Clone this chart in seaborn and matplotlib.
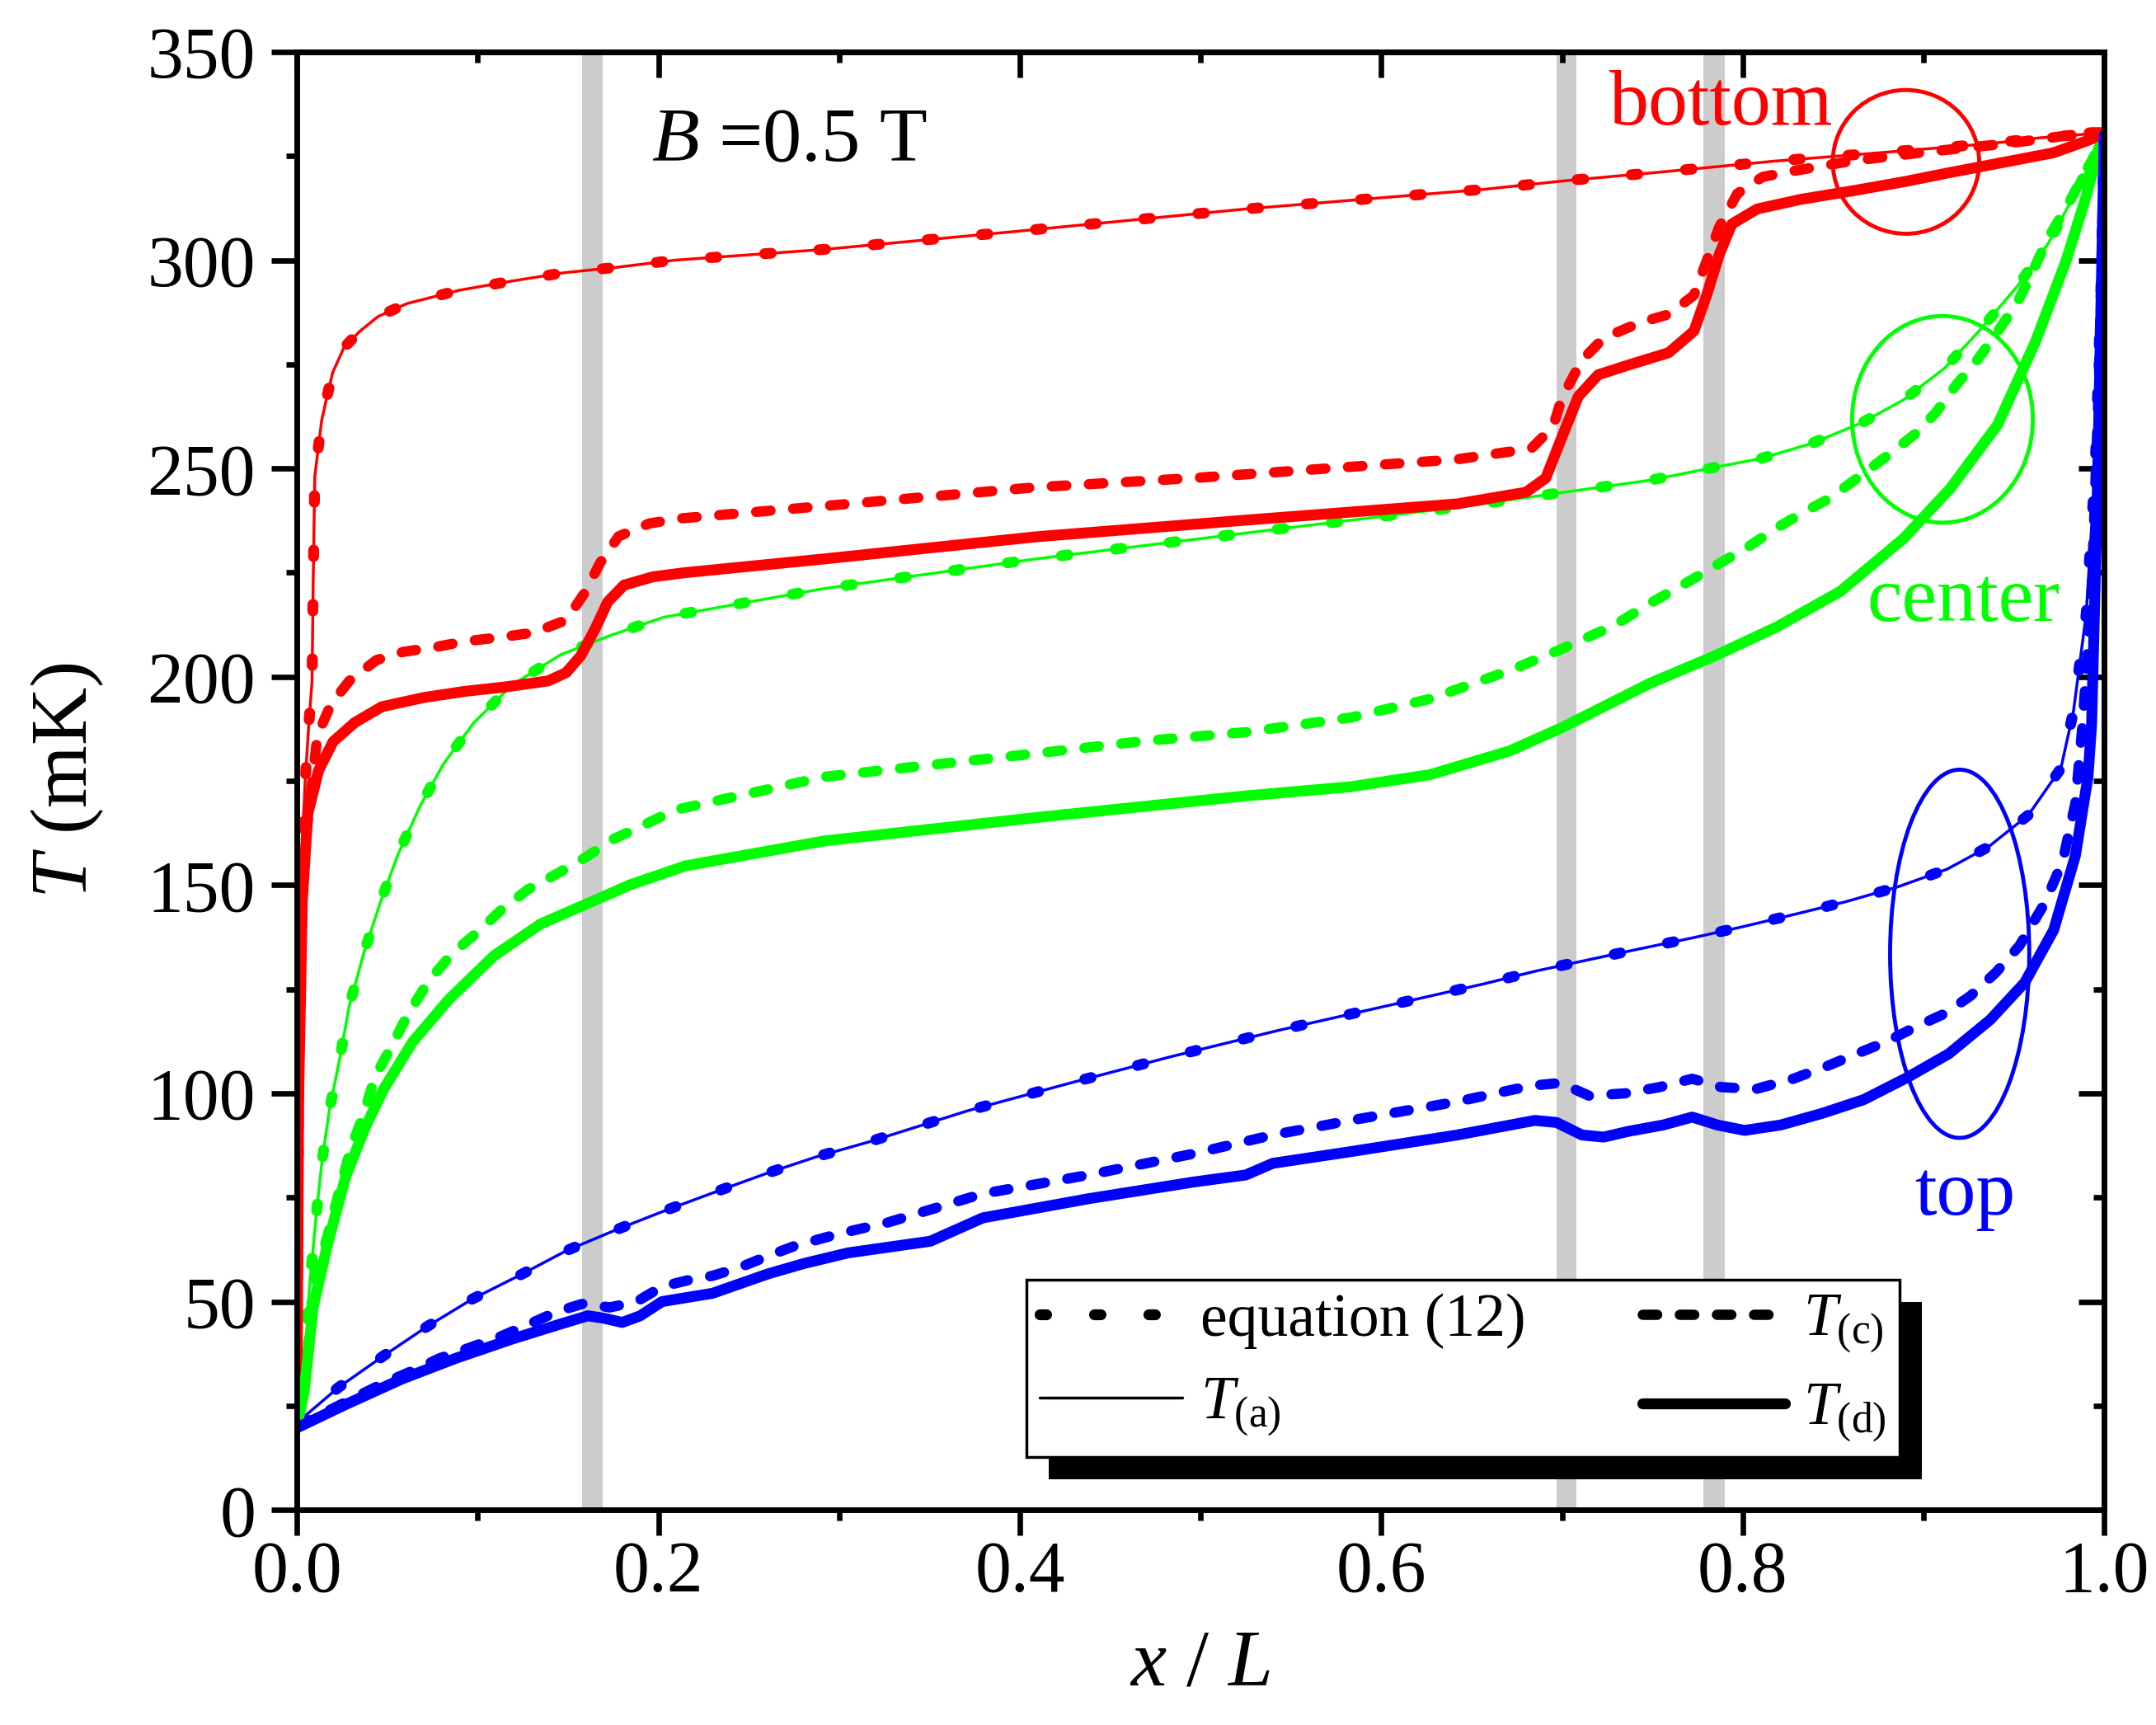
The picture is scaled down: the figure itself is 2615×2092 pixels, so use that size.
import numpy as np
import matplotlib
matplotlib.use("Agg")
import matplotlib.pyplot as plt
import seaborn as sns
from matplotlib.patches import Ellipse, Rectangle
from matplotlib.lines import Line2D
from matplotlib.ticker import AutoMinorLocator, MultipleLocator
from matplotlib.transforms import IdentityTransform

# ---- data (x/L, T in mK) ----
# bottom (red)
red_a_x = [0, 0.0008, 0.0015, 0.003, 0.0046, 0.0065, 0.0084, 0.009, 0.0099, 0.0137, 0.0165, 0.0198,
           0.026, 0.035, 0.045, 0.061, 0.09, 0.119, 0.148, 0.177, 0.209, 0.292, 0.4, 0.525, 0.6565,
           0.7, 0.758, 0.818, 0.876, 0.937, 0.965, 0.997, 1.0]
red_a_T = [20, 90, 138, 160, 175, 188, 199, 222, 248, 261.5, 267, 273, 279, 283, 286.5, 289.6, 292.8,
           295, 297, 298.3, 300, 302.6, 307, 312.3, 317, 319, 321.3, 323.8, 325.8, 328, 329.4, 330.5, 330.5]
red_c_x = [0, 0.001, 0.002, 0.0046, 0.0114, 0.019, 0.029, 0.044, 0.059, 0.075, 0.093, 0.113, 0.131,
           0.149, 0.159, 0.168, 0.178, 0.195, 0.212, 0.292, 0.409, 0.496, 0.583, 0.642, 0.683, 0.695,
           0.7, 0.711, 0.723, 0.743, 0.759, 0.773, 0.78, 0.787, 0.797, 0.811, 0.829, 0.86, 0.902,
           0.946, 0.993, 1.0]
red_c_T = [20, 100, 140, 160, 186, 193.5, 199, 204, 206, 207, 208.5, 209.5, 210.6, 213.6, 220, 227.5,
           233.7, 236.8, 238, 241, 245.5, 247.7, 250.4, 252.2, 254.8, 260, 267, 276, 281.3, 285, 287,
           291.6, 299.8, 308, 316, 320, 321.5, 323.8, 326, 328, 330.7, 330.7]
red_d_x = [0, 0.001, 0.003, 0.006, 0.012, 0.02, 0.032, 0.047, 0.07, 0.093, 0.116, 0.139, 0.149, 0.157,
           0.165, 0.172, 0.181, 0.197, 0.215, 0.292, 0.409, 0.525, 0.642, 0.68, 0.691, 0.7, 0.709,
           0.72, 0.738, 0.759, 0.773, 0.78, 0.787, 0.794, 0.808, 0.832, 0.86, 0.89, 0.913, 0.948,
           0.972, 0.997, 1.0]
red_d_T = [20, 100, 146, 167, 177.5, 184.4, 189, 192.8, 195, 196.5, 197.6, 199, 201, 205, 211.5, 218,
           222, 224, 225, 228.3, 233.6, 237.6, 241.5, 244.3, 247.7, 257.6, 267.3, 272.5, 275, 277.8,
           283, 291.6, 301.4, 308.7, 312.3, 314.6, 316.6, 318.9, 320.9, 323.8, 325.8, 329.7, 330]

# center (green)
green_a_x = [0, 0.003, 0.007, 0.011, 0.014, 0.018, 0.024, 0.029, 0.037, 0.046, 0.056, 0.068, 0.081,
             0.098, 0.119, 0.146, 0.174, 0.203, 0.292, 0.409, 0.525, 0.642, 0.749, 0.78, 0.81, 0.838,
             0.866, 0.889, 0.912, 0.932, 0.952, 0.969, 0.983, 0.997, 1.0]
green_a_T = [20, 23, 53.6, 72, 84, 96, 109, 121, 133.6, 145.6, 157.4, 168.8, 179, 189, 198, 205.3, 210,
             214.3, 221.2, 228.3, 234.5, 240.7, 247.2, 249.9, 252.4, 256, 261, 266.5, 274.2, 283.6,
             293.8, 304, 315.3, 327, 328]
green_c_x = [0, 0.005, 0.009, 0.017, 0.025, 0.03, 0.037, 0.043, 0.052, 0.062, 0.073, 0.086, 0.1, 0.113,
             0.128, 0.143, 0.16, 0.175, 0.19, 0.209, 0.292, 0.35, 0.409, 0.467, 0.525, 0.583, 0.627,
             0.671, 0.7, 0.729, 0.749, 0.773, 0.789, 0.803, 0.819, 0.8345, 0.848, 0.864, 0.881, 0.896,
             0.907, 0.918, 0.93, 0.94, 0.952, 0.96, 0.969, 0.979, 0.988, 0.997, 1.0]
green_c_T = [20, 33, 53.6, 65.8, 79, 87, 95, 103.7, 111, 119.4, 127, 133.6, 138.7, 144, 149, 152.5,
             156.7, 161, 164, 168, 176, 178.8, 181.6, 184.5, 186.7, 190.2, 194.7, 201.5, 206.7, 212.4,
             217.7, 223.6, 227.7, 231.2, 235.8, 239.7, 242.8, 247.9, 253.4, 258.5, 263.5, 270, 276.2,
             282.2, 289.9, 296.9, 305.4, 312.6, 319.9, 327, 328]
green_d_x = [0, 0.004, 0.009, 0.017, 0.027, 0.038, 0.048, 0.064, 0.084, 0.109, 0.135, 0.161, 0.184,
             0.215, 0.292, 0.409, 0.525, 0.583, 0.627, 0.671, 0.7, 0.749, 0.784, 0.819, 0.854, 0.889,
             0.915, 0.941, 0.962, 0.979, 0.99, 0.997, 1.0]
green_d_T = [20, 28.3, 48.6, 63.8, 80, 92, 101, 112.3, 122.5, 133, 140.7, 145.6, 150, 154.6, 160.6,
             166.2, 171.4, 173.6, 176.5, 182.2, 187.8, 198.5, 204.9, 212, 220.5, 233.2, 245.3, 260.5,
             280.5, 300, 315.3, 327, 328]

# top (blue)
blue_a_x = [0, 0.003, 0.023, 0.048, 0.072, 0.097, 0.125, 0.149, 0.177, 0.204, 0.232, 0.26, 0.287,
            0.317, 0.371, 0.429, 0.4845, 0.543, 0.598, 0.656, 0.686, 0.714, 0.742, 0.772, 0.8, 0.829,
            0.857, 0.886, 0.913, 0.936, 0.958, 0.976, 0.983, 0.99, 0.995, 0.998, 1.0]
blue_a_T = [20, 22, 29.4, 37, 44, 50.6, 56.7, 62.2, 67.3, 71.9, 76.4, 80.8, 84.7, 88.4, 95.8, 102.6,
            108.9, 115.1, 120.5, 126.2, 129.4, 132, 134.6, 137.3, 140, 143, 146, 149.6, 153.8, 159.2,
            166.8, 178, 191.8, 215, 250, 290, 330]
blue_c_x = [0, 0.0335, 0.048, 0.064, 0.079, 0.096, 0.112, 0.128, 0.144, 0.159, 0.173, 0.188, 0.202,
            0.217, 0.23, 0.245, 0.261, 0.275, 0.3, 0.327, 0.3795, 0.438, 0.496, 0.54, 0.583, 0.642,
            0.6825, 0.699, 0.715, 0.735, 0.754, 0.772, 0.788, 0.807, 0.828, 0.847, 0.863, 0.879,
            0.895, 0.912, 0.926, 0.94, 0.953, 0.967, 0.977, 0.984, 0.988, 0.993, 0.997, 1.0]
blue_c_T = [20, 27.3, 30.4, 33.4, 36.4, 39, 41.5, 44.5, 47.6, 49.6, 48.6, 50, 53.6, 55.2, 56.2, 58.2,
            61, 63.3, 66.3, 69, 75.9, 80.4, 85.5, 90, 93.5, 98, 101.8, 102.5, 99.4, 100, 101.5, 103.5,
            101.5, 101, 103.5, 106.6, 109.5, 112.3, 115.8, 119.2, 123.4, 129, 135.4, 145.6, 155.7,
            169.6, 188.6, 220, 270, 330]
blue_d_x = [0, 0.027, 0.058, 0.088, 0.119, 0.145, 0.161, 0.17, 0.18, 0.19, 0.202, 0.23, 0.261, 0.281,
            0.305, 0.3505, 0.3795, 0.438, 0.496, 0.525, 0.54, 0.583, 0.642, 0.685, 0.697, 0.711,
            0.723, 0.737, 0.756, 0.772, 0.786, 0.801, 0.821, 0.844, 0.867, 0.891, 0.914, 0.937,
            0.956, 0.972, 0.984, 0.991, 0.993, 0.996, 0.998, 1.0]
blue_d_T = [19.7, 25.3, 31.4, 36.4, 41, 44.5, 46.6, 46, 45, 46.6, 50, 52, 56.7, 59.2, 61.7, 64.5, 70.1,
            74.7, 78.7, 80.4, 83.2, 86, 90, 93.5, 93, 90, 89.5, 90.9, 92.4, 94.3, 92.4, 91.1, 92.4,
            95.2, 98.5, 103.8, 109.5, 117.7, 126.6, 139.2, 157, 176, 188.6, 240, 285, 330]

# grey bands (x/L)
bands = [(0.158, 0.169), (0.697, 0.708), (0.778, 0.790)]

xticks = [0.0, 0.2, 0.4, 0.6, 0.8, 1.0]
yticks = [0, 50, 100, 150, 200, 250, 300, 350]

RED, GREEN, BLUE = "#ff0000", "#00ff00", "#0000ff"

sns.set_theme(style="ticks")
plt.rcParams["font.family"] = ["Liberation Serif", "DejaVu Serif"]
plt.rcParams["mathtext.fontset"] = "custom"
plt.rcParams["mathtext.rm"] = "Liberation Serif"
plt.rcParams["mathtext.it"] = "Liberation Serif:italic"
for k in ["text.color", "axes.labelcolor", "xtick.color", "ytick.color", "axes.edgecolor"]:
    plt.rcParams[k] = "black"

fig = plt.figure(figsize=(26.15, 20.92), dpi=100)
ax = fig.add_axes([0.1377, 0.1247, 0.8383, 0.8452])
ax.set_facecolor("white")

for lo, hi in bands:
    ax.axvspan(lo, hi, color="#cccccc", lw=0, zorder=0)

thin = dict(lw=2.5, ls="-")
dots = dict(lw=9.5, ls=(0, (0.6, 4.4)), dash_capstyle="round")
dash = dict(lw=9, ls=(0, (1.4, 2.2)), dash_capstyle="round")
thick = dict(lw=9.5, ls="-", solid_capstyle="round")

curves = [
    (red_a_x, red_a_T, red_c_x, red_c_T, red_d_x, red_d_T, RED),
    (green_a_x, green_a_T, green_c_x, green_c_T, green_d_x, green_d_T, GREEN),
    (blue_a_x, blue_a_T, blue_c_x, blue_c_T, blue_d_x, blue_d_T, BLUE),
]
for ax_, aT, cx, cT, dx, dT, col in curves:
    sns.lineplot(x=ax_, y=aT, ax=ax, color=col, estimator=None, zorder=2, **thin)
    # equation (12) coincides with T(a)
    sns.lineplot(x=ax_, y=aT, ax=ax, color=col, estimator=None, zorder=2.1, **dots)
    sns.lineplot(x=cx, y=cT, ax=ax, color=col, estimator=None, zorder=2.2, **dash)
    sns.lineplot(x=dx, y=dT, ax=ax, color=col, estimator=None, zorder=2.3, **thick)

# circles marking the groups
ax.add_patch(Ellipse((0.8903, 323.6), 0.081, 34.5, fill=False, ec=RED, lw=3.5, zorder=3))
ax.add_patch(Ellipse((0.9105, 261.8), 0.100, 49.6, fill=False, ec=GREEN, lw=3.5, zorder=3))
ax.add_patch(Ellipse((0.920, 133.5), 0.077, 88.4, fill=False, ec=BLUE, lw=3.5, zorder=3))

ax.text(0.788, 332.5, "bottom", color=RED, fontsize=69, ha="center", va="baseline")
ax.text(0.922, 213.5, "center", color=GREEN, fontsize=69, ha="center", va="baseline")
ax.text(0.923, 70.9, "top", color=BLUE, fontsize=69, ha="center", va="baseline")
ax.text(0.196, 323.7, r"$B$ =0.5 T", fontsize=68, ha="left", va="baseline")

ax.set_xlim(0, 1)
ax.set_ylim(0, 350)
ax.set_xticks(xticks)
ax.set_xticklabels([f"{t:.1f}" for t in xticks])
ax.set_yticks(yticks)
ax.xaxis.set_minor_locator(AutoMinorLocator(2))
ax.yaxis.set_minor_locator(AutoMinorLocator(2))
ax.tick_params(which="both", direction="out", top=False, right=False, width=4.8,
               color="black", labelcolor="black", labelsize=63)
ax.tick_params(which="major", length=22)
ax.tick_params(which="minor", length=9.5)
ax.tick_params(axis="x", pad=4)
ax.tick_params(axis="y", pad=14)
for s in ax.spines.values():
    s.set_visible(True)
    s.set_color("black")
    s.set_linewidth(5)

# mirrored ticks pointing inward on top and right
secx = ax.secondary_xaxis("top")
secx.set_xticks(xticks)
secx.xaxis.set_minor_locator(MultipleLocator(0.1))
secx.tick_params(which="both", direction="in", labeltop=False, width=4.8, color="black")
secx.tick_params(which="major", length=22)
secx.tick_params(which="minor", length=9.5)
secx.spines["top"].set_linewidth(5)
secy = ax.secondary_yaxis("right")
secy.set_yticks(yticks)
secy.yaxis.set_minor_locator(MultipleLocator(25))
secy.tick_params(which="both", direction="in", labelright=False, width=4.8, color="black")
secy.tick_params(which="major", length=22)
secy.tick_params(which="minor", length=9.5)
secy.spines["right"].set_linewidth(5)

ax.set_xlabel(r"$x$ / $L$", fontsize=70, labelpad=20)
ax.set_ylabel(r"$T$ (mK)", fontsize=70, labelpad=36)

handles = [
    Line2D([], [], color="black", **dots),
    Line2D([], [], color="black", **thin),
    Line2D([], [], color="black", **dash),
    Line2D([], [], color="black", **thick),
]
labels = ["equation (12)", r"$T_{\rm (a)}$", r"$T_{\rm (c)}$", r"$T_{\rm (d)}$"]
leg = ax.legend(handles, labels, ncol=2, loc="lower left", mode="expand",
                bbox_to_anchor=(0.4037, 0.036, 0.483, 0.127), fontsize=53,
                frameon=True, fancybox=False, framealpha=1, edgecolor="black",
                handlelength=2.35, handletextpad=0.3, borderpad=0.22,
                labelspacing=0.45, columnspacing=1.0, borderaxespad=0)
leg.get_frame().set_linewidth(2.5)
leg.set_zorder(6)

# hard black drop shadow behind the legend box
fig.canvas.draw()
bb = leg.get_window_extent()
shadow = Rectangle((bb.x0 + 27, bb.y0 - 27), bb.width, bb.height, transform=IdentityTransform(),
                   facecolor="black", edgecolor="none", zorder=5.5, clip_on=False)
ax.add_artist(shadow)

fig.savefig("out.png", dpi=100, facecolor="white")
